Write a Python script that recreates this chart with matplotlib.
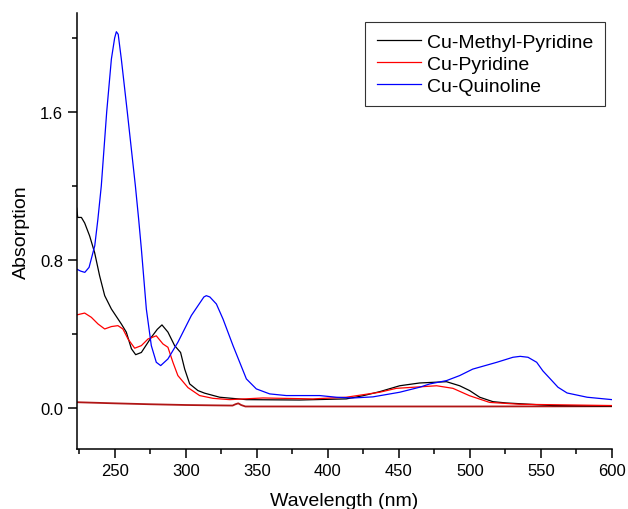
import matplotlib
matplotlib.use("Agg")
import matplotlib.pyplot as plt
from matplotlib.ticker import MultipleLocator

plt.rcParams['font.family'] = ['Liberation Sans', 'DejaVu Sans']

# UV-Vis spectra of the copper complexes
blue_wl = [223.5, 226, 229, 232, 236, 238.2, 240.6, 244.4, 247.7, 250, 251.2, 252.5,
           254.7, 258.9, 264.6, 266.9, 268.8, 272.3, 275.8, 279.3, 282.4, 287.5, 294.5,
           304, 312.8, 314.5, 317, 321.6, 326.3, 333.3, 338, 342.7, 349.7, 359.1, 370.8,
           394.3, 406, 417.7, 431.8, 450.6, 464.6, 471.8, 483.6, 492.8, 502, 519, 530.3,
           535.4, 540.9, 547, 551.4, 556.6, 562, 568.4, 582.5, 600]
quinoline = [0.75, 0.74, 0.733, 0.76, 0.877, 1.02, 1.2, 1.6, 1.886, 2.0, 2.034, 2.02,
             1.886, 1.6, 1.2, 1.02, 0.86, 0.535, 0.337, 0.247, 0.229, 0.265, 0.355,
             0.50, 0.60, 0.607, 0.60, 0.562, 0.48, 0.337, 0.247, 0.157, 0.103, 0.076, 0.067,
             0.067, 0.058, 0.054, 0.06, 0.085, 0.112, 0.13, 0.148, 0.175, 0.21, 0.247, 0.274,
             0.279, 0.274, 0.247, 0.20, 0.157, 0.112, 0.081, 0.058, 0.045]

black_wl = [223.3, 224, 226.6, 228.9, 232.4, 235.9, 239.4, 243, 247.7, 254.7, 258.2,
            261.8, 264.8, 268.8, 275.8, 280, 283.3, 287.5, 292.2, 296.4, 299.3, 302.8,
            308.6, 313.3, 323.9, 342.7, 380, 413, 424.7, 436.5, 450.6, 464.6, 483.5,
            492.8, 499.8, 506.9, 516.2, 525.6, 558.5, 600]
methyl_pyridine = [1.08, 1.03, 1.03, 1.0, 0.93, 0.84, 0.715, 0.607, 0.535, 0.454, 0.41,
                   0.32, 0.288, 0.30, 0.382, 0.425, 0.449, 0.41, 0.337, 0.30, 0.21, 0.13,
                   0.094, 0.08, 0.058, 0.045, 0.043, 0.049, 0.066, 0.088, 0.12, 0.135, 0.142,
                   0.12, 0.094, 0.058, 0.034, 0.027, 0.013, 0.01]

red_wl = [223.3, 228.9, 233.6, 238.3, 243, 247.7, 252.3, 255.8, 259.4, 264.1, 268.8,
          273.5, 279.3, 284, 287.5, 291, 294.5, 301.6, 309.8, 319.2, 330.9, 354.4, 389.5,
          413, 436.5, 448.2, 476.6, 488.1, 499.8, 513.9, 535, 600]
pyridine = [0.503, 0.513, 0.49, 0.454, 0.427, 0.44, 0.445, 0.427, 0.373, 0.323, 0.337,
            0.373, 0.39, 0.346, 0.328, 0.247, 0.175, 0.11, 0.067, 0.052, 0.045, 0.054, 0.049,
            0.058, 0.085, 0.106, 0.12, 0.106, 0.066, 0.03, 0.02, 0.013]

# solvent baseline
base_wl = [223.3, 250, 275, 300, 320, 333, 335, 337, 339, 342, 400, 500, 600]
baseline = [0.031, 0.025, 0.02, 0.016, 0.014, 0.013, 0.02, 0.025, 0.016, 0.008, 0.008,
            0.008, 0.009]

fig = plt.figure(figsize=(6.28, 5.10), dpi=100)
ax = fig.add_axes([0.1226, 0.1176, 0.8519, 0.8549])

ax.plot(base_wl, baseline, color='#b01515', lw=1.3)
ax.plot(black_wl, methyl_pyridine, color='black', lw=0.9, label='Cu-Methyl-Pyridine')
ax.plot(red_wl, pyridine, color='red', lw=0.9, label='Cu-Pyridine')
ax.plot(blue_wl, quinoline, color='blue', lw=0.9, label='Cu-Quinoline')

ax.set_xlim(223.5, 600)
ax.set_ylim(-0.222, 2.135)
ax.xaxis.set_major_locator(MultipleLocator(50))
ax.xaxis.set_minor_locator(MultipleLocator(25))
ax.yaxis.set_major_locator(MultipleLocator(0.8))
ax.yaxis.set_minor_locator(MultipleLocator(0.4))
ax.yaxis.set_major_formatter(plt.FuncFormatter(lambda v, p: f"{v:.1f}"))

for side in ('top', 'right'):
    ax.spines[side].set_visible(False)
for side in ('left', 'bottom'):
    ax.spines[side].set_linewidth(1.1)
ax.tick_params(which='major', direction='out', length=6.5, width=1.1, labelsize=12)
ax.tick_params(which='minor', direction='out', length=3.5, width=1.1)

ax.set_xlabel('Wavelength (nm)', fontsize=14, labelpad=10)
ax.set_ylabel('Absorption', fontsize=14, labelpad=7)

leg = ax.legend(loc='upper right', bbox_to_anchor=(0.987, 0.98), fontsize=14,
                frameon=True, fancybox=False, handlelength=2.3, handletextpad=0.3,
                labelspacing=0.22, borderpad=0.6, borderaxespad=0)
leg.get_frame().set_edgecolor('black')
leg.get_frame().set_linewidth(0.8)
for line in leg.get_lines():
    line.set_linewidth(0.9)

fig.savefig('out.png', dpi=100)
